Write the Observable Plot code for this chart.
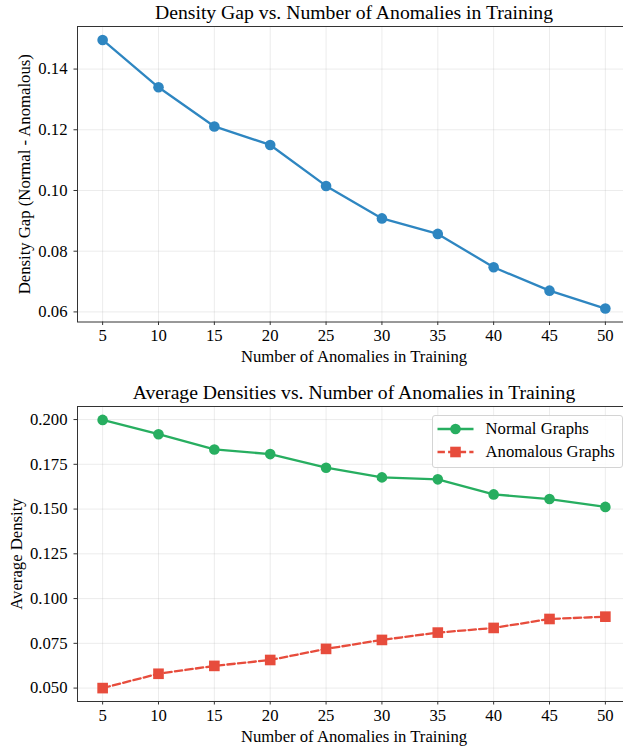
<!DOCTYPE html>
<html>
<head>
<meta charset="utf-8">
<script src="https://cdn.jsdelivr.net/npm/d3@7"></script>
<script src="https://cdn.jsdelivr.net/npm/@observablehq/plot@0.6"></script>
<style>
  html, body { margin: 0; padding: 0; background: #fff; overflow: hidden; }
  #wrap { position: relative; width: 623px; height: 746px; overflow: hidden; font-family: "Liberation Serif", "Times New Roman", serif; }
  .panel { position: absolute; left: 0; width: 640px; }
  .panel svg { max-width: none !important; display: block; }
  .legend { position: absolute; left: 431.5px; top: 415px; width: 189px; height: 51px;
    border: 1px solid #d4d4d4; border-radius: 3px; background: rgba(255,255,255,0.85);
    font-family: "Liberation Serif", serif; font-size: 16.7px; color: #000; }
  .legend .row { position: absolute; left: 0; height: 20px; width: 100%; }
  .legend svg { position: absolute; left: 4px; top: 0; }
  .legend span { position: absolute; left: 53px; top: 0; line-height: 20px; white-space: nowrap; }
</style>
</head>
<body>
<div id="wrap"></div>
<script>
const anomalies = [5, 10, 15, 20, 25, 30, 35, 40, 45, 50];
const densityGap = [0.1496, 0.1340, 0.1211, 0.1150, 0.1015, 0.0908, 0.0857, 0.0747, 0.0670, 0.0611];
const normalDensity = [0.1998, 0.1918, 0.1833, 0.1807, 0.1731, 0.1677, 0.1666, 0.1582, 0.1556, 0.1512];
const anomalousDensity = [0.0500, 0.0580, 0.0624, 0.0657, 0.0719, 0.0769, 0.0810, 0.0836, 0.0886, 0.0899];
const xTicks = [5, 10, 15, 20, 25, 30, 35, 40, 45, 50];
const gapTicks = [0.06, 0.08, 0.10, 0.12, 0.14];
const densityTicks = [0.050, 0.075, 0.100, 0.125, 0.150, 0.175, 0.200];
const seriesNames = ["Normal Graphs", "Anomalous Graphs"];

const titleTop = "Density Gap vs. Number of Anomalies in Training";
const titleBottom = "Average Densities vs. Number of Anomalies in Training";
const xLabel = "Number of Anomalies in Training";
const yLabelTop = "Density Gap (Normal - Anomalous)";
const yLabelBottom = "Average Density";

const BLUE = "#2E86C1", GREEN = "#27AE60", RED = "#E74C3C";
const FONT = "Liberation Serif, Times New Roman, serif";
const FS = 16.7;

function padDomain(values) {
  const lo = d3.min(values), hi = d3.max(values), r = hi - lo;
  return [lo - 0.05 * r, hi + 0.05 * r];
}
const xDomain = padDomain(anomalies);

const gapData = anomalies.map((a, i) => ({a, v: densityGap[i]}));
const normData = anomalies.map((a, i) => ({a, v: normalDensity[i]}));
const anomData = anomalies.map((a, i) => ({a, v: anomalousDensity[i]}));

function common(title, ylabel, yTicks, yFmt, labelDx) {
  return [
    Plot.gridX(xTicks, {stroke: "#b0b0b0", strokeOpacity: 0.3, strokeWidth: 0.8}),
    Plot.gridY(yTicks, {stroke: "#b0b0b0", strokeOpacity: 0.3, strokeWidth: 0.8}),
    Plot.axisX(xTicks, {tickSize: 3.5, tickPadding: 4, fontSize: FS, fontFamily: FONT, stroke: "#333", fill: "#000", label: null}),
    Plot.axisY(yTicks, {tickSize: 3.5, tickPadding: 6.5, fontSize: FS, fontFamily: FONT, stroke: "#333", fill: "#000", tickFormat: d3.format(yFmt), label: null}),
    Plot.frame({stroke: "#333", strokeWidth: 1}),
    Plot.text([title], {frameAnchor: "top", dy: -14.3, text: d => d, fontSize: 19.7, fontFamily: FONT, lineAnchor: "middle", textAnchor: "middle", fill: "#000"}),
    Plot.text([xLabel], {frameAnchor: "bottom", dy: 35, text: d => d, fontSize: FS, fontFamily: FONT, lineAnchor: "middle", textAnchor: "middle", fill: "#000"}),
    Plot.text([ylabel], {frameAnchor: "left", dx: labelDx, rotate: -90, text: d => d, fontSize: FS, fontFamily: FONT, lineAnchor: "middle", textAnchor: "middle", fill: "#000"})
  ];
}

const topChart = Plot.plot({
  width: 640, height: 370,
  marginTop: 26, marginBottom: 48.5, marginLeft: 77, marginRight: 10,
  style: {fontFamily: FONT, fontSize: FS + "px", background: "transparent", color: "#000", maxWidth: "none"},
  x: {domain: xDomain},
  y: {domain: padDomain(densityGap)},
  marks: [
    ...common(titleTop, yLabelTop, gapTicks, ".2f", -52.8),
    Plot.line(gapData, {x: "a", y: "v", stroke: BLUE, strokeWidth: 2.3}),
    Plot.dot(gapData, {x: "a", y: "v", r: 5.3, fill: BLUE, stroke: "none"})
  ]
});

const bottomChart = Plot.plot({
  width: 640, height: 376,
  marginTop: 36, marginBottom: 45, marginLeft: 77, marginRight: 10,
  style: {fontFamily: FONT, fontSize: FS + "px", background: "transparent", color: "#000", maxWidth: "none"},
  x: {domain: xDomain},
  y: {domain: padDomain(normalDensity.concat(anomalousDensity))},
  marks: [
    ...common(titleBottom, yLabelBottom, densityTicks, ".3f", -61.3),
    Plot.line(normData, {x: "a", y: "v", stroke: GREEN, strokeWidth: 2.3}),
    Plot.dot(normData, {x: "a", y: "v", r: 5.3, fill: GREEN, stroke: "none"}),
    Plot.line(anomData, {x: "a", y: "v", stroke: RED, strokeWidth: 2.3, strokeDasharray: "7.4,3.2"}),
    Plot.dot(anomData, {x: "a", y: "v", r: 6, symbol: "square", fill: RED, stroke: "none"})
  ]
});

const wrap = document.getElementById("wrap");
const p1 = document.createElement("div"); p1.className = "panel"; p1.style.top = "0px"; p1.appendChild(topChart);
const p2 = document.createElement("div"); p2.className = "panel"; p2.style.top = "370px"; p2.appendChild(bottomChart);
wrap.appendChild(p1); wrap.appendChild(p2);

// legend
const legend = document.createElement("div");
legend.className = "legend";
const entries = [
  {name: seriesNames[0], color: GREEN, dash: null, marker: "circle", y: 2.5},
  {name: seriesNames[1], color: RED, dash: "7.4,3.2", marker: "square", y: 26}
];
for (const e of entries) {
  const row = document.createElement("div");
  row.className = "row";
  row.style.top = e.y + "px";
  const ns = "http://www.w3.org/2000/svg";
  const svg = document.createElementNS(ns, "svg");
  svg.setAttribute("width", 38); svg.setAttribute("height", 20);
  const line = document.createElementNS(ns, "line");
  line.setAttribute("x1", 0.5); line.setAttribute("x2", 36.5);
  line.setAttribute("y1", 10); line.setAttribute("y2", 10);
  line.setAttribute("stroke", e.color); line.setAttribute("stroke-width", 2.3);
  if (e.dash) line.setAttribute("stroke-dasharray", e.dash);
  svg.appendChild(line);
  if (e.marker === "circle") {
    const c = document.createElementNS(ns, "circle");
    c.setAttribute("cx", 18.5); c.setAttribute("cy", 10); c.setAttribute("r", 5.3);
    c.setAttribute("fill", e.color);
    svg.appendChild(c);
  } else {
    const r = document.createElementNS(ns, "rect");
    r.setAttribute("x", 18.5 - 5.3); r.setAttribute("y", 10 - 5.3);
    r.setAttribute("width", 10.6); r.setAttribute("height", 10.6);
    r.setAttribute("fill", e.color);
    svg.appendChild(r);
  }
  row.appendChild(svg);
  const span = document.createElement("span");
  span.textContent = e.name;
  row.appendChild(span);
  legend.appendChild(row);
}
wrap.appendChild(legend);
</script>
</body>
</html>
